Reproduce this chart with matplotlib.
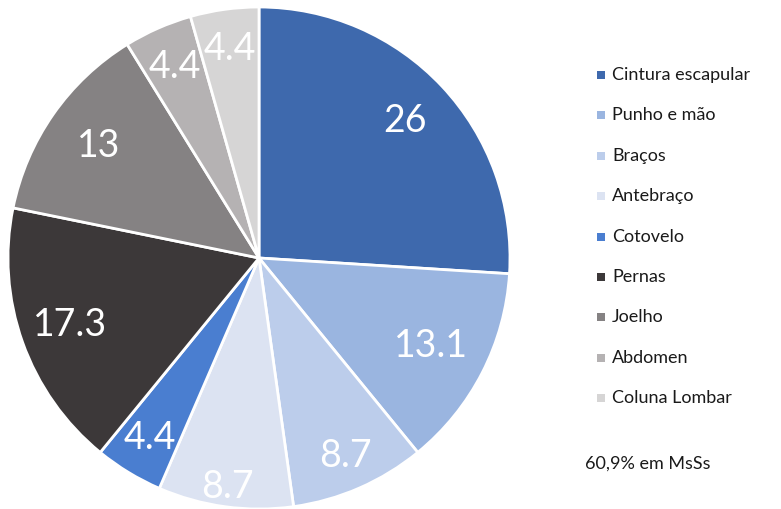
import matplotlib
matplotlib.use('Agg')
import matplotlib.pyplot as plt
import numpy as np
from matplotlib.patches import Rectangle

plt.rcParams['font.family'] = ['Lato', 'DejaVu Sans']

# dados
categorias = ['Cintura escapular', 'Punho e mão', 'Braços', 'Antebraço', 'Cotovelo',
              'Pernas', 'Joelho', 'Abdomen', 'Coluna Lombar']
valores = [26, 13.1, 8.7, 8.7, 4.4, 17.3, 13, 4.4, 4.4]
rotulos = ['26', '13.1', '8.7', '8.7', '4.4', '17.3', '13', '4.4', '4.4']
nota = '60,9% em MsSs'

cores = ['#3E69AD', '#9AB5E0', '#BCCDEB', '#DCE3F2', '#4A7ED0',
         '#3C3839', '#858283', '#B5B2B3', '#D6D5D5']
# distancia radial de cada rotulo (estilo)
dist = [0.80, 0.77, 0.86, 0.92, 0.84, 0.80, 0.78, 0.83, 0.84]

W, H = 781, 509
fig = plt.figure(figsize=(W / 100, H / 100), dpi=100)

cx, cy, r = 259, 258, 251
ax = fig.add_axes([(cx - r) / W, (H - cy - r) / H, 2 * r / W, 2 * r / H])
wedges, _ = ax.pie(valores, colors=cores, startangle=90, counterclock=False,
                   radius=1, wedgeprops=dict(edgecolor='white', linewidth=2))
ax.set_xlim(-1.0, 1.0)
ax.set_ylim(-1.0, 1.0)
ax.set_aspect('equal')
ax.axis('off')

for w, txt, d in zip(wedges, rotulos, dist):
    ang = np.deg2rad((w.theta1 + w.theta2) / 2)
    ax.text(d * np.cos(ang), d * np.sin(ang), txt, color='white', fontsize=27,
            ha='center', va='center')

# legenda manual
y0 = 75
passo = 40.4
for i, (lab, c) in enumerate(zip(categorias, cores)):
    y = y0 + i * passo
    fig.patches.append(Rectangle((597 / W, (H - y - 4) / H), 8 / W, 8 / H,
                                 transform=fig.transFigure, facecolor=c,
                                 edgecolor='none'))
    fig.text(612 / W, (H - y) / H, lab, fontsize=13, va='center', ha='left',
             color='#1a1a1a')

fig.text(585 / W, (H - 464) / H, nota, fontsize=13, va='center', ha='left',
         color='#1a1a1a')

fig.savefig('out.png', dpi=100)
